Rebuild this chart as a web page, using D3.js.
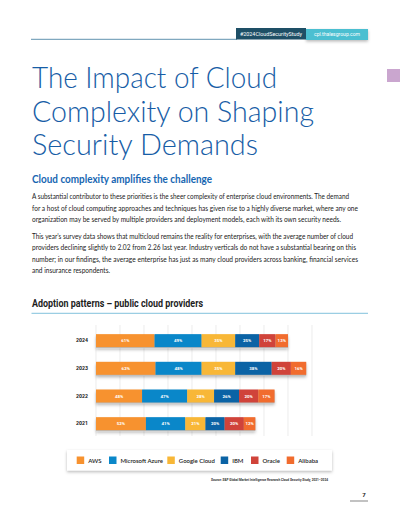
<!DOCTYPE html>
<html>
<head>
<meta charset="utf-8">
<script src="https://cdn.jsdelivr.net/npm/d3@7"></script>
<style>
html,body{margin:0;padding:0;background:#fff;}
svg{display:block;}
</style>
</head>
<body>
<div id="chart"></div>
<script>
// ---- data ----
const years = ["2024", "2023", "2022", "2021"];
const providers = ["AWS", "Microsoft Azure", "Google Cloud", "IBM", "Oracle", "Alibaba"];
const aws     = [61, 62, 48, 52];
const azure   = [49, 48, 47, 41];
const google  = [35, 35, 28, 21];
const ibm     = [25, 38, 26, 20];
const oracle  = [17, 20, 20, 20];
const alibaba = [13, 16, 17, 12];
const gridTicks = [0, 25, 50, 75, 100, 125, 150, 175, 200, 225];

const colors = ["#f7922f", "#0a87c9", "#f8b737", "#0b63a5", "#d0433a", "#f16c2e"];
const seriesValues = [aws, azure, google, ibm, oracle, alibaba];

const W = 400, H = 518;
const svg = d3.select("#chart").append("svg").attr("width", W).attr("height", H);
const defs = svg.append("defs");
const f = defs.append("filter").attr("id", "sh").attr("x", "-10%").attr("y", "-30%").attr("width", "120%").attr("height", "200%");
f.append("feDropShadow").attr("dx", 0).attr("dy", 1.5).attr("stdDeviation", 1.4).attr("flood-color", "#000").attr("flood-opacity", 0.28);

// ---- header ----
svg.append("line").attr("x1", 31).attr("x2", 237).attr("y1", 39.3).attr("y2", 39.3)
  .attr("stroke", "#4f86a6").attr("stroke-width", 0.9);
svg.append("rect").attr("x", 306).attr("y", 29).attr("width", 62).attr("height", 11).attr("fill", "#4cbfd1").attr("filter", "url(#sh)");
svg.append("rect").attr("x", 236).attr("y", 28).attr("width", 70).attr("height", 11.5).attr("fill", "#1e4f66");
svg.append("text").attr("x", 271).attr("y", 36.2).attr("text-anchor", "middle")
  .attr("font-family", "Roboto, sans-serif").attr("font-size", 5.6).attr("fill", "#fff")
  .attr("textLength", 62).attr("lengthAdjust", "spacingAndGlyphs").text("#2024CloudSecurityStudy");
svg.append("text").attr("x", 337).attr("y", 36.2).attr("text-anchor", "middle")
  .attr("font-family", "Roboto, sans-serif").attr("font-size", 5.6).attr("fill", "#fff")
  .attr("textLength", 46).attr("lengthAdjust", "spacingAndGlyphs").text("cpl.thalesgroup.com");
svg.append("rect").attr("x", 387).attr("y", 69).attr("width", 13).attr("height", 13).attr("fill", "#caa6cf");

// ---- title ----
const titleLines = [
  {t: "The Impact of Cloud", y: 87.5, w: 245},
  {t: "Complexity on Shaping", y: 121.5, w: 282},
  {t: "Security Demands", y: 154.5, w: 226}
];
svg.selectAll("text.title").data(titleLines).join("text").attr("class", "title")
  .attr("x", 32).attr("y", d => d.y)
  .attr("font-family", "Lato, 'Open Sans', sans-serif").attr("font-weight", 300)
  .attr("font-size", 29).attr("fill", "#175da6")
  .attr("textLength", d => d.w).attr("lengthAdjust", "spacingAndGlyphs")
  .text(d => d.t);

svg.append("text").attr("x", 32).attr("y", 183).attr("font-family", "Lato, sans-serif")
  .attr("font-weight", 700).attr("font-size", 10.5).attr("fill", "#1766b2")
  .attr("textLength", 180).attr("lengthAdjust", "spacingAndGlyphs")
  .text("Cloud complexity amplifies the challenge");

const para = [
  {t: "A substantial contributor to these priorities is the sheer complexity of enterprise cloud environments. The demand", y: 199, w: 317},
  {t: "for a host of cloud computing approaches and techniques has given rise to a highly diverse market, where any one", y: 210.5, w: 326},
  {t: "organization may be served by multiple providers and deployment models, each with its own security needs.", y: 222, w: 309},
  {t: "This year’s survey data shows that multicloud remains the reality for enterprises, with the average number of cloud", y: 239, w: 321},
  {t: "providers declining slightly to 2.02 from 2.26 last year. Industry verticals do not have a substantial bearing on this", y: 250.3, w: 324},
  {t: "number; in our findings, the average enterprise has just as many cloud providers across banking, financial services", y: 261.6, w: 326},
  {t: "and insurance respondents.", y: 272.9, w: 78}
];
svg.selectAll("text.para").data(para).join("text").attr("class", "para")
  .attr("x", 32).attr("y", d => d.y)
  .attr("font-family", "Lato, sans-serif").attr("font-size", 6.6).attr("fill", "#222")
  .attr("textLength", d => d.w).attr("lengthAdjust", "spacingAndGlyphs")
  .text(d => d.t);

// ---- chart title ----
svg.append("text").attr("x", 32).attr("y", 306.5).attr("font-family", "Roboto, sans-serif")
  .attr("font-weight", 700).attr("font-size", 10).attr("fill", "#1d1d1d")
  .attr("textLength", 171).attr("lengthAdjust", "spacingAndGlyphs")
  .text("Adoption patterns – public cloud providers");
svg.append("line").attr("x1", 31.5).attr("x2", 368).attr("y1", 313.3).attr("y2", 313.3)
  .attr("stroke", "#62b3d3").attr("stroke-width", 0.8);

// ---- scales ----
const x = d3.scaleLinear().domain([0, 225]).range([96, 312]);
const y = d3.scaleBand().domain(years).range([326.8, 437.5]).paddingInner(0.53).paddingOuter(0.265);

// grid
svg.append("g").selectAll("line").data(gridTicks).join("line")
  .attr("x1", d => x(d)).attr("x2", d => x(d)).attr("y1", 325).attr("y2", 436)
  .attr("stroke", "#e4e4e4").attr("stroke-width", 0.7);

// y axis labels
const yAxis = d3.axisLeft(y).tickSize(0).tickPadding(0);
const ya = svg.append("g").attr("transform", "translate(88,0)").call(yAxis);
ya.select(".domain").remove();
ya.selectAll("text").attr("font-family", "Roboto, sans-serif").attr("font-weight", 700)
  .attr("font-size", 5.2).attr("fill", "#222");

// stacked data
const rows = years.map((yr, i) => {
  let acc = 0;
  return providers.map((p, j) => {
    const v = seriesValues[j][i];
    const seg = {year: yr, provider: p, value: v, x0: acc, x1: acc + v, color: colors[j]};
    acc += v;
    return seg;
  });
});

// shadows
svg.append("g").selectAll("rect").data(rows).join("rect")
  .attr("x", d => x(0)).attr("y", d => y(d[0].year) + 1)
  .attr("width", d => x(d[d.length - 1].x1) - x(0)).attr("height", y.bandwidth())
  .attr("fill", "#bbb").attr("filter", "url(#sh)");

const segs = rows.flat();
svg.append("g").selectAll("rect").data(segs).join("rect")
  .attr("x", d => x(d.x0)).attr("y", d => y(d.year))
  .attr("width", d => x(d.x1) - x(d.x0)).attr("height", y.bandwidth())
  .attr("fill", d => d.color);

svg.append("g").selectAll("text").data(segs).join("text")
  .attr("x", d => (x(d.x0) + x(d.x1)) / 2).attr("y", d => y(d.year) + y.bandwidth() / 2 + 1.6)
  .attr("text-anchor", "middle").attr("font-family", "Roboto, sans-serif").attr("font-weight", 700)
  .attr("font-size", 4.4).attr("fill", "#fff")
  .text(d => d.value + "%");

// ---- legend ----
svg.append("rect").attr("x", 67).attr("y", 450).attr("width", 265).attr("height", 20.5)
  .attr("fill", "#fff").attr("filter", "url(#sh)");
const legX = [76.7, 109, 167.3, 220.7, 251, 286.7];
const leg = svg.append("g").selectAll("g").data(providers).join("g")
  .attr("transform", (d, i) => `translate(${legX[i]},456.5)`);
leg.append("rect").attr("width", 7.5).attr("height", 7.5).attr("fill", (d, i) => colors[i]);
leg.append("text").attr("x", 11.5).attr("y", 6.1).attr("font-family", "Lato, sans-serif")
  .attr("font-weight", 600).attr("font-size", 6).attr("fill", "#222").text(d => d);

// source
svg.append("text").attr("x", 211).attr("y", 480.5).attr("font-family", "Roboto, sans-serif")
  .attr("font-weight", 700).attr("font-size", 3.4).attr("fill", "#333")
  .attr("textLength", 117).attr("lengthAdjust", "spacingAndGlyphs")
  .text("Source: S&P Global Market Intelligence Research Cloud Security Study, 2021–2024");

// page number
svg.append("text").attr("x", 364).attr("y", 497).attr("text-anchor", "middle")
  .attr("font-family", "Roboto, sans-serif").attr("font-weight", 700).attr("font-size", 6)
  .attr("fill", "#222").text("7");
svg.append("line").attr("x1", 350).attr("x2", 368).attr("y1", 501).attr("y2", 501)
  .attr("stroke", "#333").attr("stroke-width", 0.6);
</script>
</body>
</html>
